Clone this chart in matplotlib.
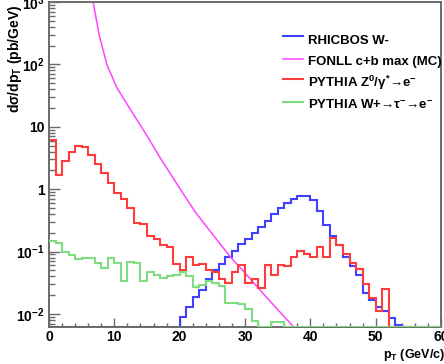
import numpy as np
import matplotlib
matplotlib.use("Agg")
import matplotlib.pyplot as plt
from matplotlib.ticker import FixedLocator, FixedFormatter, LogLocator, MultipleLocator, NullFormatter

plt.rcParams['font.family'] = ['Liberation Sans', 'DejaVu Sans']
plt.rcParams['font.weight'] = 'bold'
plt.rcParams['mathtext.fontset'] = 'custom'
plt.rcParams['mathtext.rm'] = 'Liberation Sans:bold'
plt.rcParams['mathtext.it'] = 'Liberation Sans:bold'
plt.rcParams['mathtext.bf'] = 'Liberation Sans:bold'
plt.rcParams['mathtext.default'] = 'rm'

# ---- data (1 GeV bins, 0..60) ----
bin_edges = np.arange(0, 61, 1)

rhicbos_w = [0, 0, 0, 0, 0, 0, 0, 0, 0, 0,
             0, 0, 0, 0, 0, 0, 0, 0, 0, 0,
             0.009, 0.013, 0.019, 0.024, 0.037, 0.050, 0.064, 0.082, 0.104, 0.135,
             0.16, 0.20, 0.25, 0.31, 0.40, 0.50, 0.60, 0.70, 0.77, 0.77,
             0.66, 0.44, 0.27, 0.177, 0.13, 0.081, 0.059, 0.042, 0.022, 0.017,
             0.013, 0.011, 0.0087, 0.0067, 0, 0, 0, 0, 0, 0]

pythia_z = [6.2, 1.7, 2.8, 3.9, 5.0, 4.8, 3.5, 2.5, 1.8, 1.25,
            0.88, 0.69, 0.50, 0.29, 0.28, 0.18, 0.16, 0.127, 0.118, 0.064,
            0.050, 0.081, 0.060, 0.064, 0.051, 0.048, 0.036, 0.031, 0.047, 0.060,
            0.032, 0.036, 0.026, 0.062, 0.042, 0.061, 0.058, 0.081, 0.102, 0.093,
            0.081, 0.118, 0.081, 0.165, 0.129, 0.092, 0.066, 0.052, 0.030, 0.018,
            0.011, 0.025, 0, 0, 0, 0, 0, 0, 0, 0]

pythia_wtau = [0.148, 0.137, 0.10, 0.088, 0.076, 0.079, 0.078, 0.066, 0.055, 0.079,
               0.066, 0.034, 0.068, 0.066, 0.034, 0.047, 0.042, 0.038, 0.041, 0.042,
               0.048, 0.040, 0.027, 0.029, 0.034, 0.031, 0.028, 0.0148, 0.0148, 0.0145,
               0.0122, 0.0076, 0, 0, 0.0074, 0.0074, 0, 0, 0, 0,
               0, 0, 0, 0, 0, 0, 0, 0, 0, 0,
               0, 0, 0, 0, 0, 0, 0, 0, 0, 0]

fonll_pt = [6.75, 7.7, 8.85, 10.4, 12.9, 15.0, 17.0, 20.1, 22.4, 24.2, 26.2, 27.8, 29.3, 31.3, 33.1, 37.7]
fonll_val = [1000, 290, 100, 42, 16, 7.2, 3.2, 1.0, 0.43, 0.245, 0.133, 0.081, 0.055, 0.032, 0.0195, 0.0058]

y_ticks = [1e-2, 1e-1, 1, 10, 1e2, 1e3]
y_ticklabels = [r'$10^{-2}$', r'$10^{-1}$', '1', '10', r'$10^{2}$', r'$10^{3}$']
x_ticks = [0, 10, 20, 30, 40, 50, 60]

YMIN, YMAX = 0.0062, 1000

c_blue = '#4040ff'
c_mag = '#ff44ff'
c_red = '#ff3c3c'
c_green = '#80dc80'
c_axis = '#6a6a6a'

fig = plt.figure(figsize=(4.44, 3.64), dpi=100)
ax = fig.add_axes([49/444, 1 - 327/364, 392/444, 325/364])

def floor(v):
    return np.maximum(np.asarray(v, dtype=float), YMIN)

ax.stairs(floor(rhicbos_w), bin_edges, baseline=None, color=c_blue, lw=1.5, label='RHICBOS W-', zorder=2)
ax.plot(fonll_pt, fonll_val, color=c_mag, lw=1.1, label='FONLL c+b max (MC)', zorder=2)
ax.stairs(floor(pythia_z), bin_edges, baseline=None, color=c_red, lw=1.5,
          label='PYTHIA Z$^{0}$/$\\gamma^{*}$\u2192e$^{-}$', zorder=2.2)
ax.stairs(floor(pythia_wtau), bin_edges, baseline=None, color=c_green, lw=1.5,
          label='PYTHIA W+\u2192$\\tau^{-}$\u2192e$^{-}$', zorder=3)

ax.set_yscale('log')
ax.set_xlim(0, 60)
ax.set_ylim(YMIN, YMAX)

ax.yaxis.set_major_locator(FixedLocator(y_ticks))
ax.yaxis.set_major_formatter(FixedFormatter(y_ticklabels))
ax.yaxis.set_minor_locator(LogLocator(base=10, subs=np.arange(2, 10), numticks=20))
ax.yaxis.set_minor_formatter(NullFormatter())
ax.xaxis.set_major_locator(FixedLocator(x_ticks))
ax.xaxis.set_minor_locator(MultipleLocator(2))

for s in ax.spines.values():
    s.set_color(c_axis)
    s.set_linewidth(1.4)

ax.tick_params(axis='both', which='both', direction='in', color=c_axis, width=1.0,
               top=False, right=False, labelsize=10)
ax.tick_params(axis='y', which='major', length=8, pad=3)
ax.tick_params(axis='y', which='minor', length=4)
ax.tick_params(axis='x', which='major', length=6.5, pad=2.5)
ax.tick_params(axis='x', which='minor', length=3.2)

fig.text(0.033, 1 - 113/364, r'd$\sigma$/dp$_{T}$ (pb/GeV)', rotation=90, ha='center', va='bottom', fontsize=10)
fig.text(383/444, 0.025, r'p$_{T}$ (GeV/c)', ha='left', va='center', fontsize=9)

leg = ax.legend(loc='upper left', bbox_to_anchor=((283 - 49) / 392, 1 - (32 - 2) / 325),
                frameon=False, fontsize=9.5, handlelength=1.5, handletextpad=0.38,
                handleheight=1.35, labelspacing=0.45, borderpad=0, borderaxespad=0)

fig.savefig('out.png', dpi=100)
